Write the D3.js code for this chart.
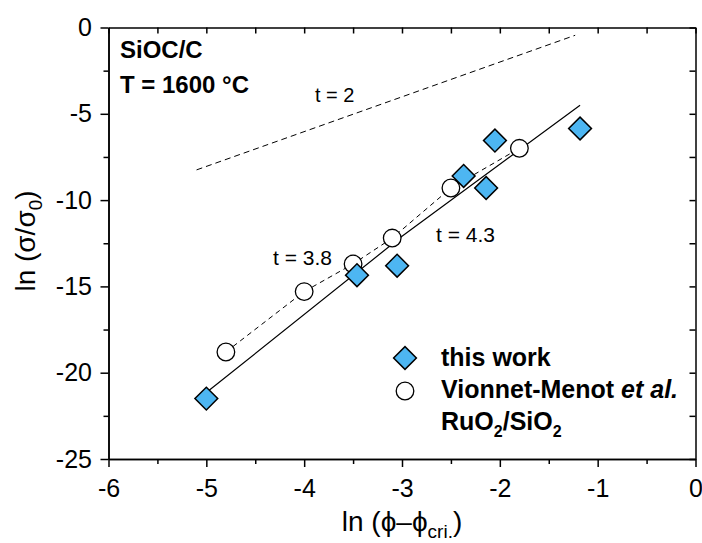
<!DOCTYPE html>
<html>
<head>
<meta charset="utf-8">
<script src="https://cdn.jsdelivr.net/npm/d3@7"></script>
<style>
  body { margin: 0; background: #fff; }
  svg { display: block; font-family: Arial, "Liberation Sans", Helvetica, sans-serif; }
</style>
</head>
<body>
<script>
// this work (diamonds)
const workX = [-5.0, -3.46, -3.05, -2.37, -2.14, -2.05, -1.18];
const workY = [-21.5, -14.35, -13.8, -8.6, -9.3, -6.55, -5.85];
// Vionnet-Menot et al. (circles)
const refX = [-4.8, -4.0, -3.5, -3.1, -2.5, -1.8];
const refY = [-18.8, -15.3, -13.7, -12.2, -9.3, -7.0];
// guide lines
const fitX = [-5.0, -3.0, -1.18];
const fitY = [-21.15, -12.1, -4.5];
const t2X = [-5.1, -1.23];
const t2Y = [-8.25, -0.45];
// ticks
const xTicks = [-6, -5, -4, -3, -2, -1, 0];
const xMinor = [-5.5, -4.5, -3.5, -2.5, -1.5, -0.5];
const yTicks = [0, -5, -10, -15, -20, -25];
const yMinor = [-2.5, -7.5, -12.5, -17.5, -22.5];

const W = 702, H = 543;
const margin = {top: 27.5, right: 6.5, bottom: 84, left: 108.5};

const svg = d3.select("body").append("svg")
  .attr("width", W).attr("height", H);

const x = d3.scaleLinear().domain([-6, 0]).range([margin.left, W - margin.right]);
const y = d3.scaleLinear().domain([-25, 0]).range([H - margin.bottom, margin.top]);

function styleAxis(g) {
  g.selectAll("path, line").attr("stroke", "#000").attr("stroke-width", 1.5);
  g.selectAll("text").attr("font-size", 25).attr("fill", "#000")
    .attr("font-family", "Arial, 'Liberation Sans', sans-serif");
}

// bottom
svg.append("g").attr("transform", `translate(0,${y(-25)})`)
  .call(d3.axisBottom(x).tickValues(xTicks).tickFormat(d3.format("d")).tickSize(8).tickSizeOuter(0).tickPadding(12))
  .call(styleAxis);
svg.append("g").attr("transform", `translate(0,${y(-25)})`)
  .call(d3.axisBottom(x).tickValues(xMinor).tickFormat("").tickSize(5).tickSizeOuter(0))
  .call(styleAxis);
// top (mirror, inward)
svg.append("g").attr("transform", `translate(0,${y(0)})`)
  .call(d3.axisBottom(x).tickValues(xTicks.concat(xMinor)).tickFormat("").tickSize(6).tickSizeOuter(0))
  .call(styleAxis);
// left
svg.append("g").attr("transform", `translate(${x(-6)},0)`)
  .call(d3.axisLeft(y).tickValues(yTicks).tickFormat(d3.format("d")).tickSize(8).tickSizeOuter(0).tickPadding(8.5))
  .call(styleAxis);
svg.append("g").attr("transform", `translate(${x(-6)},0)`)
  .call(d3.axisLeft(y).tickValues(yMinor).tickFormat("").tickSize(5).tickSizeOuter(0))
  .call(styleAxis);
// right (mirror, inward)
svg.append("g").attr("transform", `translate(${x(0)},0)`)
  .call(d3.axisLeft(y).tickValues(yTicks.concat(yMinor)).tickFormat("").tickSize(6).tickSizeOuter(0))
  .call(styleAxis);

// hyphen minus like the original
svg.selectAll(".tick text").text(function() { return this.textContent.replace("\u2212", "-"); });

const line = d3.line().x(d => x(d[0])).y(d => y(d[1]));

// t = 2 reference line
svg.append("path").datum(d3.zip(t2X, t2Y)).attr("d", line)
  .attr("fill", "none").attr("stroke", "#000").attr("stroke-width", 1).attr("stroke-dasharray", "6,4");

// Vionnet-Menot connecting dashed line
svg.append("path").datum(d3.zip(refX, refY)).attr("d", line)
  .attr("fill", "none").attr("stroke", "#000").attr("stroke-width", 1).attr("stroke-dasharray", "5,4");

// t = 4.3 fit line
svg.append("path").datum(d3.zip(fitX, fitY)).attr("d", line)
  .attr("fill", "none").attr("stroke", "#000").attr("stroke-width", 1.2);

// circles
svg.selectAll("circle.ref").data(d3.zip(refX, refY)).enter().append("circle")
  .attr("class", "ref")
  .attr("cx", d => x(d[0])).attr("cy", d => y(d[1])).attr("r", 8.8)
  .attr("fill", "#fff").attr("stroke", "#000").attr("stroke-width", 1.3);

// diamonds
const diamond = d3.symbol().type(d3.symbolSquare).size(260);
svg.selectAll("path.work").data(d3.zip(workX, workY)).enter().append("path")
  .attr("class", "work")
  .attr("d", diamond)
  .attr("transform", d => `translate(${x(d[0])},${y(d[1])}) rotate(45)`)
  .attr("fill", "#4db6f2").attr("stroke", "#000").attr("stroke-width", 1.5);

// annotations
function label(tx, ty, txt, size, weight) {
  return svg.append("text").attr("x", tx).attr("y", ty)
    .attr("font-size", size).attr("font-weight", weight || "normal").text(txt);
}
label(120, 58, "SiOC/C", 24, "bold");
label(120, 93, "T = 1600 °C", 24, "bold");
label(315, 102, "t = 2", 20);
label(273, 265, "t = 3.8", 21);
label(436, 242, "t = 4.3", 21);

// legend
svg.append("path").attr("d", diamond)
  .attr("transform", "translate(405,358) rotate(45)")
  .attr("fill", "#4db6f2").attr("stroke", "#000").attr("stroke-width", 1.5);
svg.append("circle").attr("cx", 405).attr("cy", 391).attr("r", 8.8)
  .attr("fill", "#fff").attr("stroke", "#000").attr("stroke-width", 1.3);
label(441, 366, "this work", 25, "bold");
const vm = label(441, 398, "Vionnet-Menot ", 25, "bold");
vm.append("tspan").attr("font-style", "italic").text("et al.");
const ru = label(441, 430, "RuO", 25, "bold");
ru.append("tspan").attr("font-size", 16).attr("dy", 7).text("2");
ru.append("tspan").attr("dy", -7).text("/SiO");
ru.append("tspan").attr("font-size", 16).attr("dy", 7).text("2");

// axis titles
const xt = svg.append("text").attr("x", 402).attr("y", 531)
  .attr("text-anchor", "middle").attr("font-size", 28);
xt.append("tspan").text("ln (\u03d5\u2013\u03d5");
xt.append("tspan").attr("font-size", 19).attr("dy", 7).text("cri.");
xt.append("tspan").attr("dy", -7).text(")");

const yt = svg.append("text").attr("transform", "translate(35,241) rotate(-90)")
  .attr("text-anchor", "middle").attr("font-size", 28);
yt.append("tspan").text("ln (\u03c3/\u03c3");
yt.append("tspan").attr("font-size", 19).attr("dy", 7).text("0");
yt.append("tspan").attr("dy", -7).text(")");
</script>
</body>
</html>
